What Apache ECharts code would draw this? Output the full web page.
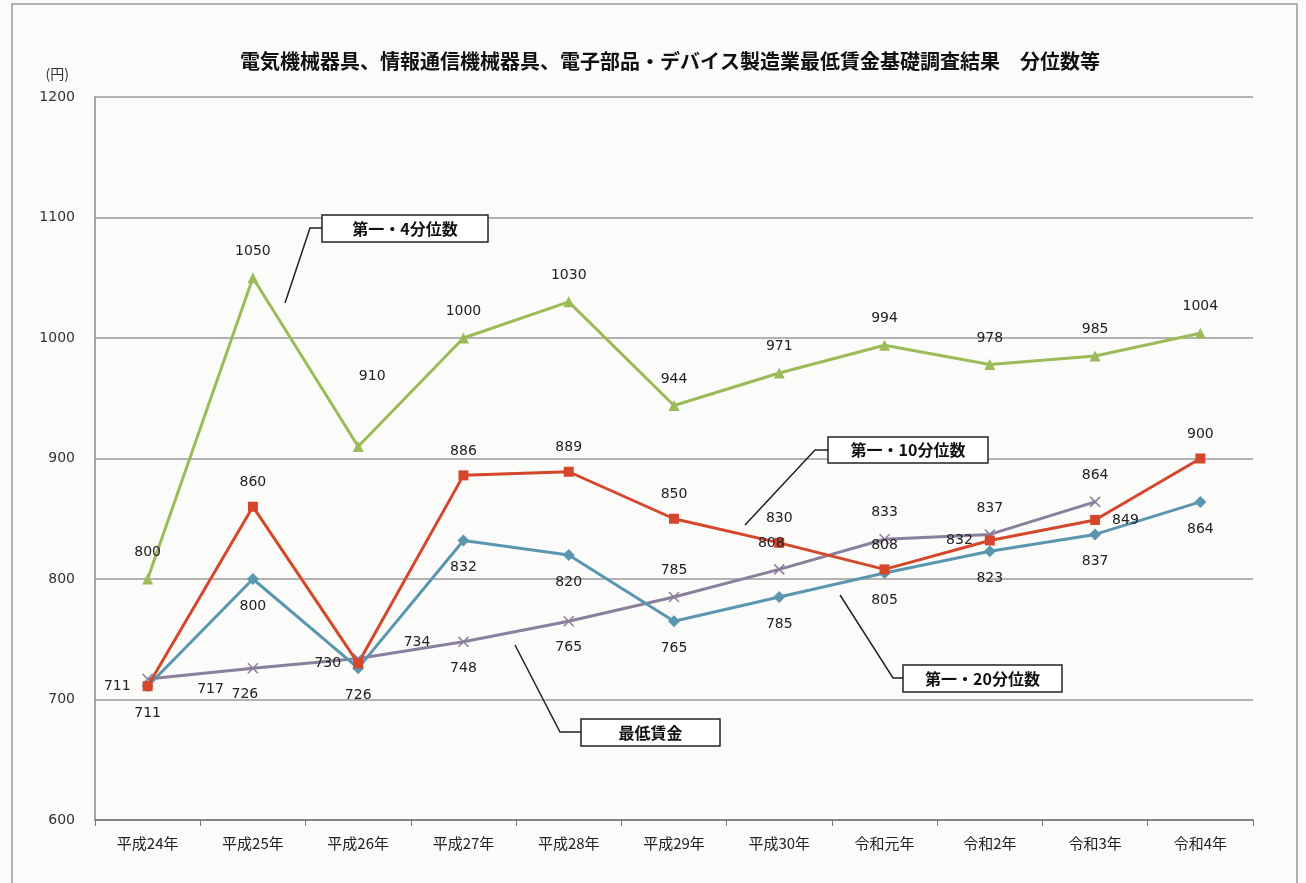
<!DOCTYPE html>
<html>
<head>
<meta charset="utf-8">
<script src="https://cdn.jsdelivr.net/npm/echarts@6/dist/echarts.min.js"></script>
<style>
  html, body { margin: 0; padding: 0; background: #fbfbf9; }
  #main { width: 1306px; height: 883px; }
</style>
</head>
<body>
<div id="main"></div>
<script>
// 年次
var years = ['平成24年', '平成25年', '平成26年', '平成27年', '平成28年', '平成29年', '平成30年', '令和元年', '令和2年', '令和3年', '令和4年'];
// 第一・4分位数
var q4 = [800, 1050, 910, 1000, 1030, 944, 971, 994, 978, 985, 1004];
// 第一・10分位数
var q10 = [711, 860, 730, 886, 889, 850, 830, 808, 832, 849, 900];
// 第一・20分位数
var q20 = [711, 800, 726, 832, 820, 765, 785, 805, 823, 837, 864];
// 最低賃金
var minWage = [717, 726, 734, 748, 765, 785, 808, 833, 837, 864, null];

var yTicks = [600, 700, 800, 900, 1000, 1100, 1200];

// ラベル位置（データとは別）
var posQ10 = ['left', 'top', 'left', 'top', 'top', 'top', 'top', 'top', 'left', 'right', 'top'];
var posMin = ['right', 'bottom', 'right', 'bottom', 'bottom', 'top', 'top', 'top', 'top', 'top', 'top'];
var offMin = [[30, 10], [-8, 0], [26, -16], [0, 0], [0, 0], [0, 0], [-8, 0], [0, 0], [0, 0], [0, 0], [0, 0]];
var offQ4 = [0, 0, [14, -44], 0, 0, 0, 0, 0, [0, 0], 0, 0];

var numFont = 'DejaVu Sans, Verdana, sans-serif';
var jpFont = '"Noto Sans CJK JP", sans-serif';

function withLabel(vals, pos, off) {
    return vals.map(function (v, i) {
        var lb = {};
        if (pos) lb.position = pos[i];
        if (off && off[i]) lb.offset = off[i];
        return { value: v, label: lb };
    });
}

var myChart = echarts.init(document.getElementById('main'));

var xSym = 'path://M0,0L10,10M10,0L0,10';

var option = {
    animation: false,
    backgroundColor: '#fbfbf9',
    title: {
        text: '電気機械器具、情報通信機械器具、電子部品・デバイス製造業最低賃金基礎調査結果　分位数等',
        left: 665,
        top: 46,
        textAlign: 'center',
        textStyle: { fontFamily: jpFont, fontSize: 20, fontWeight: 'bold', color: '#111' }
    },
    grid: { left: 95, right: 53, top: 97, bottom: 63 },
    xAxis: {
        type: 'category',
        data: years,
        boundaryGap: true,
        axisLine: { lineStyle: { color: '#777', width: 1.5 } },
        axisTick: { show: true, length: 6, lineStyle: { color: '#777' } },
        axisLabel: { fontFamily: jpFont, fontSize: 15, color: '#222', margin: 16 }
    },
    yAxis: {
        type: 'value',
        min: yTicks[0],
        max: yTicks[yTicks.length - 1],
        interval: 100,
        name: '(円)',
        nameLocation: 'end',
        nameGap: 16,
        nameTextStyle: { fontFamily: jpFont, fontSize: 14, color: '#333', align: 'right', padding: [0, 26, 0, 0] },
        axisLine: { show: true, lineStyle: { color: '#888', width: 1.5 } },
        axisTick: { show: false },
        axisLabel: { fontFamily: numFont, fontSize: 14, color: '#333', margin: 20, formatter: function (v) { return String(v); } },
        splitLine: { lineStyle: { color: '#9a9a9a', width: 1.5 } }
    },
    series: [
        {
            name: '第一・4分位数',
            type: 'line',
            data: withLabel(q4, null, offQ4),
            symbol: 'triangle',
            symbolSize: 11,
            lineStyle: { color: '#9bbb59', width: 3 },
            itemStyle: { color: '#9bbb59' },
            label: { show: true, position: 'top', distance: 14, fontFamily: numFont, fontSize: 14, color: '#222' }
        },
        {
            name: '最低賃金',
            type: 'line',
            data: withLabel(minWage, posMin, offMin),
            symbol: xSym,
            symbolSize: 10,
            lineStyle: { color: '#8a7f9c', width: 3 },
            itemStyle: { color: 'none', borderColor: '#8a7f9c', borderWidth: 1.5 },
            label: { show: true, distance: 12, fontFamily: numFont, fontSize: 14, color: '#222' }
        },
        {
            name: '第一・20分位数',
            type: 'line',
            data: q20,
            symbol: 'diamond',
            symbolSize: 12,
            lineStyle: { color: '#5b96b0', width: 3 },
            itemStyle: { color: '#5b96b0' },
            label: { show: true, position: 'bottom', distance: 14, fontFamily: numFont, fontSize: 14, color: '#222' }
        },
        {
            name: '第一・10分位数',
            type: 'line',
            data: withLabel(q10, posQ10, null),
            symbol: 'rect',
            symbolSize: 10,
            lineStyle: { color: '#d5472a', width: 3 },
            itemStyle: { color: '#d5472a' },
            label: { show: true, distance: 12, fontFamily: numFont, fontSize: 14, color: '#222' }
        }
    ]
};

myChart.setOption(option);

// 凡例代わりの吹き出し
function callout(text, box, path) {
    return [
        {
            type: 'polyline',
            shape: { points: path },
            style: { stroke: '#222', lineWidth: 1.5, fill: null },
            z: 100
        },
        {
            type: 'rect',
            shape: { x: box[0], y: box[1], width: box[2], height: box[3] },
            style: { fill: '#fff', stroke: '#222', lineWidth: 1.5 },
            z: 100
        },
        {
            type: 'text',
            x: box[0] + box[2] / 2,
            y: box[1] + box[3] / 2,
            style: { text: text, fontFamily: jpFont, fontSize: 16, fontWeight: 'bold', fill: '#111', align: 'center', verticalAlign: 'middle' },
            z: 101
        }
    ];
}

var g = [].concat(
    callout('第一・4分位数', [322, 215, 166, 27], [[285, 303], [310, 228], [322, 228]]),
    callout('第一・10分位数', [828, 437, 160, 26], [[745, 525], [815, 450], [828, 450]]),
    callout('第一・20分位数', [903, 665, 159, 27], [[840, 595], [893, 678], [903, 678]]),
    callout('最低賃金', [581, 719, 139, 27], [[515, 645], [560, 732], [581, 732]]),
    [{
        type: 'rect',
        shape: { x: 12, y: 4, width: 1285, height: 890 },
        style: { fill: null, stroke: '#999', lineWidth: 1.5 },
        z: 90
    }]
);

myChart.setOption({ graphic: g });
</script>
</body>
</html>
